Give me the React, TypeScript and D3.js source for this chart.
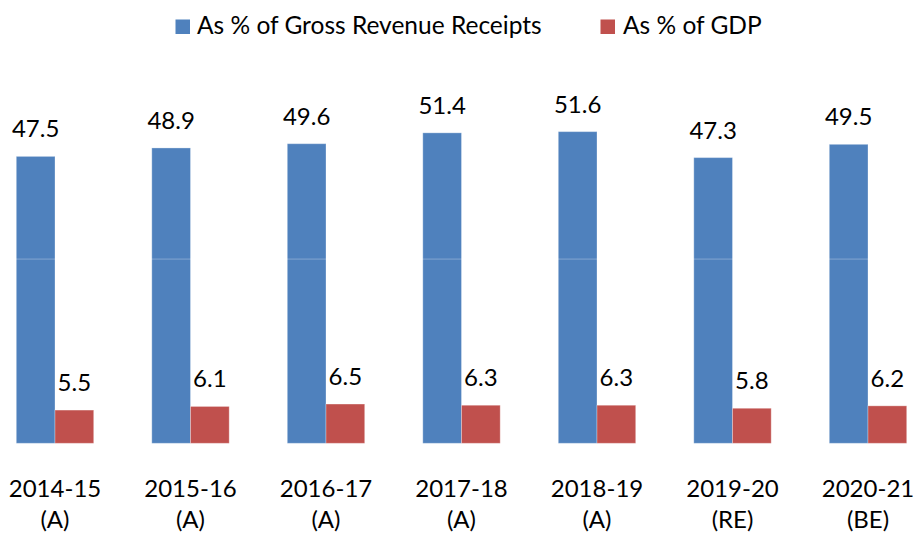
import React from "react";
import * as d3 from "d3";

const categories = ["2014-15", "2015-16", "2016-17", "2017-18", "2018-19", "2019-20", "2020-21"];
const categorySub = ["(A)", "(A)", "(A)", "(A)", "(A)", "(RE)", "(BE)"];
const seriesNames = ["As % of Gross Revenue Receipts", "As % of GDP"];
const grossRevenue = [47.5, 48.9, 49.6, 51.4, 51.6, 47.3, 49.5];
const gdp = [5.5, 6.1, 6.5, 6.3, 6.3, 5.8, 6.2];
const gridValues = [30.5];
const colors = ["#4F81BD", "#C0504D"];

const W = 915;
const H = 535;
const FONT = "Lato, 'Open Sans', sans-serif";

export default function App() {
  const x = d3.scaleBand<string>().domain(categories).range([-12.75, 935.75]).padding(0);
  const groupW = 77.4;
  const inner = d3.scaleBand<string>().domain(seriesNames).range([0, groupW]).padding(0);
  const y = d3.scaleLinear().domain([0, 60]).range([443.3, 80.9]);
  const series = [grossRevenue, gdp];

  return (
    <svg width={W} height={H} style={{ position: "absolute", left: 0, top: 0, background: "#fff" }}
      fontFamily={FONT}>
      {/* legend */}
      <g>
        <rect x={175.5} y={19.5} width={14.5} height={14.5} fill={colors[0]} />
        <text x={197} y={34} fontSize={24.5} fill="#000">{seriesNames[0]}</text>
        <rect x={600.5} y={19.5} width={14.5} height={14.5} fill={colors[1]} />
        <text x={623} y={34} fontSize={24.5} fill="#000">{seriesNames[1]}</text>
      </g>
      {categories.map((c, i) => {
        const gx = (x(c) as number) + x.bandwidth() / 2 - groupW / 2;
        return (
          <g key={c}>
            {series.map((vals, s) => {
              const bx = gx + (inner(seriesNames[s]) as number);
              const by = y(vals[i]);
              return (
                <g key={s}>
                  <rect x={bx} y={by} width={inner.bandwidth()} height={y(0) - by}
                    fill={colors[s]} stroke="rgba(255,255,255,0.3)" strokeWidth={1} />
                  <text x={bx + inner.bandwidth() / 2} y={by - 19} fontSize={24}
                    textAnchor="middle" fill="#000">{vals[i].toFixed(1)}</text>
                </g>
              );
            })}
            <text x={(x(c) as number) + x.bandwidth() / 2} y={497} fontSize={24}
              textAnchor="middle" fill="#000">{c}</text>
            <text x={(x(c) as number) + x.bandwidth() / 2} y={528} fontSize={24}
              textAnchor="middle" fill="#000">{categorySub[i]}</text>
          </g>
        );
      })}
      {gridValues.map((g) => (
        <line key={g} x1={0} x2={W} y1={y(g)} y2={y(g)} stroke="rgba(255,255,255,0.3)" strokeWidth={1} />
      ))}
    </svg>
  );
}
